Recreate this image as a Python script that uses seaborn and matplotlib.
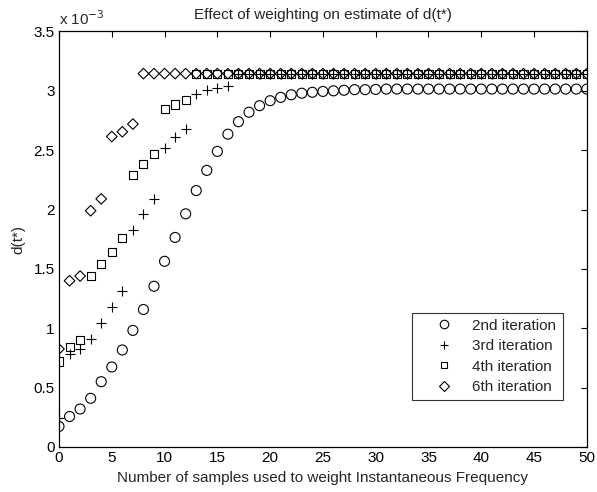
import numpy as np
import pandas as pd
import matplotlib
matplotlib.use("Agg")
import matplotlib.pyplot as plt
import seaborn as sns
from matplotlib.lines import Line2D
from matplotlib.ticker import FuncFormatter

# Values in units of 1e-3
x_samples = list(range(0, 51))

iter2 = [0.173, 0.257, 0.32, 0.41, 0.55, 0.674, 0.817, 0.982, 1.158, 1.354,
         1.564, 1.765, 1.964, 2.16, 2.33, 2.49, 2.635, 2.74, 2.82, 2.875,
         2.917, 2.945, 2.967, 2.98, 2.988, 2.995, 3.0, 3.005, 3.01, 3.01,
         3.012] + [3.015] * 20

iter3 = [0.24, 0.78, 0.825, 0.91, 1.045, 1.175, 1.315, 1.825, 1.96, 2.085,
         2.52, 2.61, 2.68, 2.97, 3.005, 3.02, 3.04] + [3.145] * 34

iter4 = [0.72, 0.845, 0.905, 1.44, 1.545, 1.645, 1.76, 2.29, 2.38, 2.465,
         2.845, 2.885, 2.925] + [3.145] * 38

iter6 = [0.825, 1.40, 1.44, 1.99, 2.09, 2.615, 2.655, 2.72] + [3.145] * 43

labels = ["2nd iteration", "3rd iteration", "4th iteration", "6th iteration"]
x_ticks = [0, 5, 10, 15, 20, 25, 30, 35, 40, 45, 50]
y_ticks = [0, 0.5, 1, 1.5, 2, 2.5, 3, 3.5]

sns.set_theme(style="white")
plt.rcParams['font.family'] = ['Liberation Sans', 'DejaVu Sans']

FS = 11

fig = plt.figure(figsize=(5.97, 4.92), dpi=100)
ax = fig.add_axes([0.0988, 0.0915, 0.8842, 0.8445])

scale = 1e-3
series = [iter2, iter3, iter4, iter6]
markers = ['o', '+', 's', 'D']
sizes = [7.2, 6.8, 5.8, 5.4]

for vals, lab, mk, ms in zip(series, labels, markers, sizes):
    df = pd.DataFrame({"x": x_samples, "y": np.array(vals) * scale})
    if mk == '+':
        sns.scatterplot(data=df, x="x", y="y", ax=ax, marker=mk, s=ms**2,
                        color='black', linewidth=0.8, legend=False, zorder=3)
    else:
        sns.scatterplot(data=df, x="x", y="y", ax=ax, marker=mk, s=ms**2,
                        facecolor='none', edgecolor='black', linewidth=0.8,
                        legend=False, zorder=3)

ax.set_xlim(0, 50)
ax.set_ylim(0, 3.5e-3)
ax.set_xticks(x_ticks)
ax.set_yticks([v * scale for v in y_ticks])
ax.yaxis.set_major_formatter(FuncFormatter(lambda v, p: f"{v/scale:g}"))
ax.xaxis.set_major_formatter(FuncFormatter(lambda v, p: f"{v:g}"))
ax.tick_params(direction='in', length=4, width=0.8, top=True, right=True,
               labelsize=FS, colors='black', pad=3)
for sp in ax.spines.values():
    sp.set_visible(True)
    sp.set_color('black')
    sp.set_linewidth(0.9)

ax.set_xlabel("Number of samples used to weight Instantaneous Frequency",
              fontsize=FS, labelpad=4)
ax.set_ylabel("d(t*)", fontsize=FS, labelpad=6)
ax.set_title("Effect of weighting on estimate of d(t*)", fontsize=FS, pad=9)
ax.text(0.0, 1.008, r"x 10$^{-3}$", transform=ax.transAxes, fontsize=FS,
        ha='left', va='bottom')

handles = [Line2D([], [], linestyle='none', marker=mk, markersize=ms*0.85,
                  markerfacecolor='none', markeredgecolor='black',
                  color='black', markeredgewidth=0.8)
           for mk, ms in zip(markers, sizes)]
leg = ax.legend(handles, labels, loc='lower left',
                bbox_to_anchor=(0.669, 0.113, 0.286, 0.22), mode='expand',
                fontsize=FS, frameon=True, fancybox=False, borderpad=0.4,
                handlelength=3.4, handletextpad=0.1, labelspacing=0.42,
                borderaxespad=0)
leg.get_frame().set_edgecolor('black')
leg.get_frame().set_linewidth(0.8)

fig.savefig("out.png", dpi=100)
